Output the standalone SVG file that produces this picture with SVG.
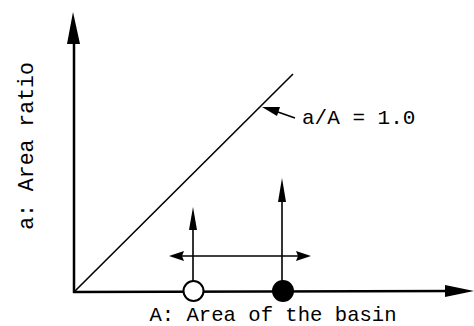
<svg xmlns="http://www.w3.org/2000/svg" width="474" height="326" viewBox="0 0 474 326">
<style>
.t{font-family:"Liberation Mono","Courier New",monospace;font-size:20.6px;fill:#000}
.ax{stroke:#000;stroke-width:2.5;fill:none}
.ln{stroke:#000;stroke-width:1.6;fill:none}
.ah{fill:#000;stroke:none}
</style>
<rect width="474" height="326" fill="#fff"/>
<g id="connectors">
  <line class="ax" x1="74" y1="293" x2="74" y2="35"/>
  <polygon class="ah" points="73,12 80,44 67,44"/>
  <line class="ax" x1="73" y1="292" x2="455" y2="291"/>
  <polygon class="ah" points="474,291 445,285 445,297"/>
  <line class="ln" x1="75" y1="291" x2="293" y2="74"/>
  <line class="ln" x1="295" y1="118" x2="275" y2="111"/>
  <polygon class="ah" points="262,107 280,107 277,116"/>
  <line class="ln" x1="193" y1="281" x2="193" y2="225"/>
  <polygon class="ah" points="193,207 197,230 189,230"/>
  <line class="ln" x1="282" y1="281" x2="282" y2="196"/>
  <polygon class="ah" points="282,178 286,202 278,202"/>
  <line class="ln" x1="178" y1="256" x2="302" y2="256"/>
  <polygon class="ah" points="169,256 184,251 182,256 184,261"/>
  <polygon class="ah" points="311,256 296,251 298,256 296,261"/>
</g>
<g id="open-circle"><circle cx="193.5" cy="291" r="10" fill="#fff" stroke="#000" stroke-width="2"/></g>
<g id="filled-circle"><circle cx="283" cy="291" r="11" fill="#000"/></g>
<g id="label-ratio"><text class="t" x="302" y="124" style="font-size:21px">a/A = 1.0</text></g>
<g id="x-label"><text class="t" x="273" y="321" text-anchor="middle">A: Area of the basin</text></g>
<g id="y-label"><text class="t" transform="translate(33,146) rotate(-90)" text-anchor="middle" style="font-size:21.5px">a: Area ratio</text></g>
</svg>
